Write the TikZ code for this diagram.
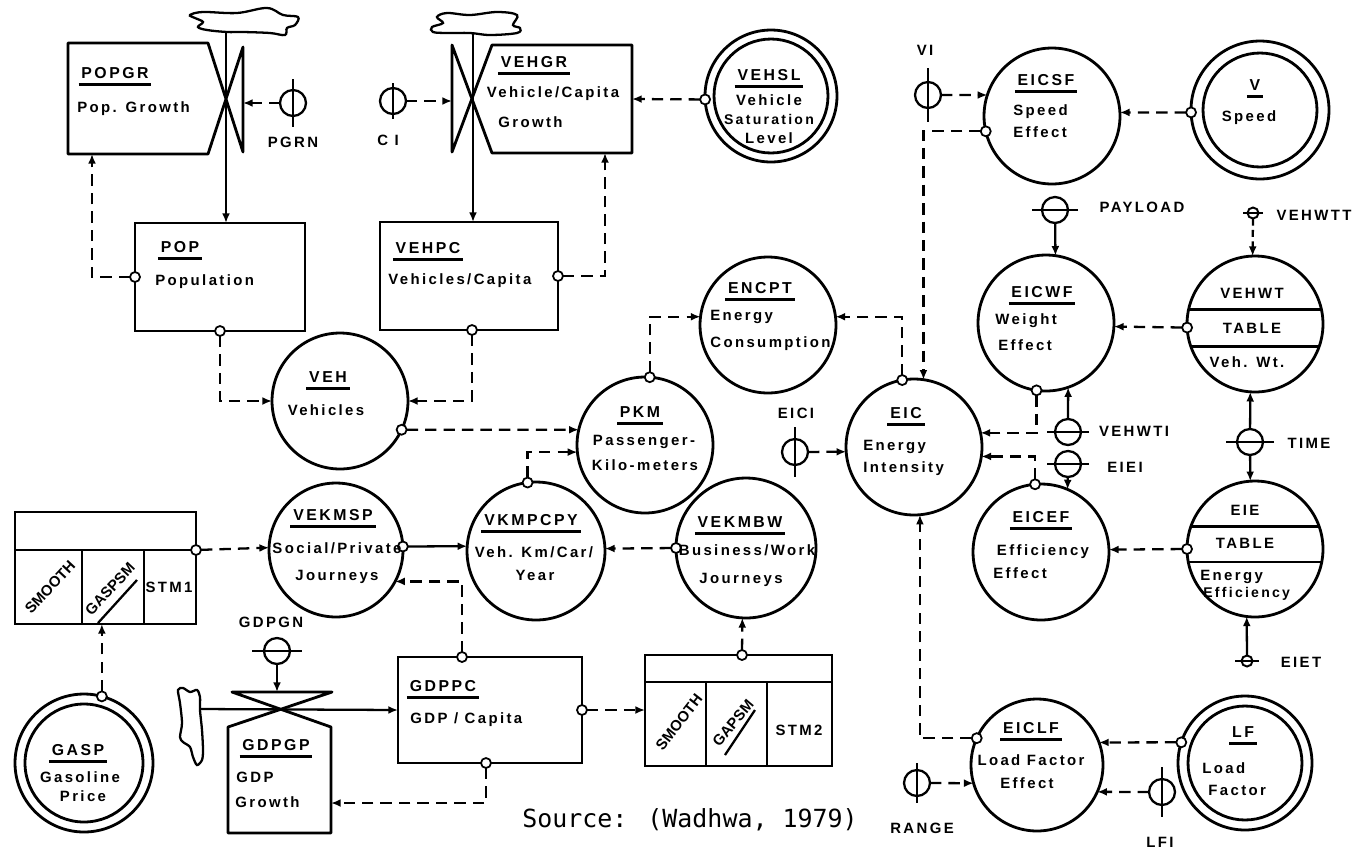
\documentclass[tikz,border=0pt]{standalone}
\usepackage{fontspec}
\newfontfamily\labfont{Liberation Sans}[LetterSpace=16]
\newfontfamily\labfontn{Liberation Sans}
\newfontfamily\srcfont{DejaVu Sans Mono}
\usetikzlibrary{arrows.meta}
\newcommand\ttlnode[4]{%
  \node[ttl] (#1) at (#2,#3) {#4};
  \draw[ul] ([xshift=-0.05cm,yshift=-0.13cm]#1.base west) -- ([xshift=0.05cm,yshift=-0.13cm]#1.base east);}
\newcommand\auxv[4]{%
  \node[aux] (#1) at (#2,#3) {};
  \draw[auxline] ([yshift=#4]#1.center) -- ([yshift=-#4]#1.center);}
\newcommand\auxh[4]{%
  \node[aux] (#1) at (#2,#3) {};
  \draw[auxline] ([xshift=#4]#1.center) -- ([xshift=-#4]#1.center);}
\newcommand\auxhs[4]{%
  \node[auxs] (#1) at (#2,#3) {};
  \draw[auxline] ([xshift=#4]#1.center) -- ([xshift=-#4]#1.center);}
\begin{document}
\begin{tikzpicture}[x=0.02cm,y=-0.02cm,
  >={Latex[length=5.5pt,width=4.5pt]},
  ol/.style={line width=1.6pt,line join=round},
  box/.style={rectangle,draw,line width=1.6pt,inner sep=0pt,outer sep=0pt},
  circ/.style={circle,draw,line width=1.6pt,inner sep=0pt,outer sep=0pt,minimum size=#1},
  pick/.style={circle,draw,fill=white,line width=1pt,inner sep=0pt,outer sep=0pt,minimum size=0.2cm},
  aux/.style={circle,draw,line width=1.3pt,inner sep=0pt,outer sep=0pt,minimum size=0.52cm},
  auxs/.style={aux,minimum size=0.22cm,line width=1.1pt},
  auxline/.style={line width=1.3pt},
  dc/.style={line width=1.3pt,dash pattern=on 6.5pt off 4pt,->},
  sc/.style={line width=1.3pt,->},
  lbl/.style={font={\labfont\bfseries\fontsize{8.5pt}{10pt}\selectfont},inner sep=0pt,anchor=base},
  ttl/.style={lbl,font={\labfont\bfseries\fontsize{9pt}{11pt}\selectfont}},
  rot/.style={inner sep=0pt,anchor=center,font={\labfontn\bfseries\fontsize{8.5pt}{10pt}\selectfont}},
  ul/.style={line width=1.3pt},
  cld/.style={line width=1.3pt}
]
\path[use as bounding box] (0,0) rectangle (1362,853);

% ---------- clouds ----------
\draw[cld] plot[smooth cycle,tension=0.6] coordinates {(190,15) (203,12) (237,13) (267,8) (283,15) (298,17) (295,25) (287,28) (285,35) (270,33) (243,32) (227,32) (207,30) (198,27) (203,22) (195,18)};
\coordinate (cl1b) at (226,32);
\draw[cld] plot[smooth cycle,tension=0.6] coordinates {(437,17) (447,13) (470,15) (497,12) (517,15) (513,25) (520,28) (517,33) (490,35) (470,33) (447,33) (433,32) (432,27) (443,23)};
\coordinate (cl2b) at (473,34);
\draw[cld] plot[smooth cycle,tension=0.5] coordinates {(178,690) (183,688) (190,692) (197,690) (200,697) (200,710) (202,730) (203,750) (202,760) (197,765) (193,757) (190,747) (183,742) (180,737) (182,723) (180,703)};
\coordinate (cl3r) at (200,709);

% ---------- levels with valves ----------
\draw[ol] (243,47) -- (208,154) -- (68,154) -- (68,43) -- (208,43) -- (243,152) -- cycle;
\coordinate (popgrB) at (92,154);
\coordinate (popv) at (243,103);
\draw[ol] (452,45) -- (492,153) -- (632,153) -- (632,45) -- (492,45) -- (452,152) -- cycle;
\coordinate (vehgrB) at (605,153);
\coordinate (vehgrR) at (632,99);
\coordinate (vehv) at (452,101);
\draw[ol] (232,692) -- (331,727) -- (331,833) -- (228,833) -- (228,727) -- (332,692) -- cycle;
\coordinate (gvt) at (277,692);
\coordinate (gdpgpR) at (331,803);

% ---------- boxes ----------
\node[box,minimum width=3.4cm,minimum height=2.16cm] (pop) at (220,277) {};
\node[box,minimum width=3.56cm,minimum height=2.16cm] (vehpc) at (469,276) {};
\node[box,minimum width=3.68cm,minimum height=2.12cm] (gdppc) at (490,710) {};
\node[box,minimum width=3.62cm,minimum height=2.24cm] (stm1) at (105.5,568) {};
\node[box,minimum width=3.74cm,minimum height=2.22cm] (stm2) at (738.5,710.5) {};
\draw[ol] (15,550) -- (196,550) (82,550) -- (82,624) (144,550) -- (144,624);
\draw[ol] (645,682) -- (832,682) (706,682) -- (706,766) (767,682) -- (767,766);
\draw[ul] (98,623) -- (137,580);
\draw[ul] (725,755) -- (755,710);

% ---------- circles ----------
\node[circ=2.72cm] (veh) at (340,401) {};
\node[circ=2.72cm] (pkm) at (645,445) {};
\node[circ=2.72cm] (encpt) at (768,325) {};
\node[circ=2.72cm] (eic) at (914,447) {};
\node[circ=2.72cm] (eicsf) at (1052,116) {};
\node[circ=2.76cm] (v) at (1260,110) {};
\node[circ=2.28cm] (vI) at (1260,110) {};
\node[circ=2.72cm] (eicwf) at (1046,323) {};
\node[circ=2.72cm] (vehwt) at (1255,324) {};
\node[circ=2.72cm] (eicef) at (1041,552) {};
\node[circ=2.72cm] (eie) at (1255,549) {};
\node[circ=2.64cm] (eiclf) at (1037,765) {};
\node[circ=2.68cm] (lf) at (1245,763) {};
\node[circ=2.28cm] (lfI) at (1245,763) {};
\node[circ=2.68cm] (vs) at (336,550) {};
\node[circ=2.76cm] (vk) at (536,551) {};
\node[circ=2.8cm] (vb) at (746,548) {};
\node[circ=2.76cm] (gasp) at (84,763) {};
\node[circ=2.36cm] (gaspI) at (84,763) {};
\node[circ=2.64cm] (vehsl) at (771,96) {};
\node[circ=2.28cm] (vehslI) at (771,96) {};
\draw[ol] (vehwt.168) -- (vehwt.12) (vehwt.199) -- (vehwt.-19);
\draw[ol] (eie.161) -- (eie.19) (eie.191) -- (eie.-11);

% ---------- auxiliaries ----------
\auxv{pgrn}{293}{103}{0.48cm}
\auxv{ci}{393}{101}{0.36cm}
\auxv{vi}{928}{95}{0.54cm}
\auxv{eici}{795}{452}{0.5cm}
\auxh{payload}{1055}{210}{0.46cm}
\auxh{vehwti}{1068}{432}{0.42cm}
\auxh{eiei}{1068}{464}{0.42cm}
\auxh{time}{1250}{442}{0.48cm}
\auxhs{vehwtt}{1253}{213}{0.2cm}
\auxhs{eiet}{1247}{661}{0.24cm}
\auxv{range}{917}{783}{0.4cm}
\auxv{lfi}{1162}{792}{0.5cm}
\auxh{gdpgn}{277}{651}{0.5cm}

% ---------- pick-off points ----------
\node[pick] (pPOPl) at (pop.west) {};
\node[pick] (pPOPb) at (pop.south) {};
\node[pick] (pVEHPCr) at (vehpc.east) {};
\node[pick] (pVEHPCb) at ([xshift=0.06cm]vehpc.south) {};
\node[pick] (pVEHSL) at (vehsl.183) {};
\node[pick] (pVEH) at (veh.-25) {};
\node[pick] (pPKMt) at (pkm.86) {};
\node[pick] (pEICt) at (eic.100) {};
\node[pick] (pEICSF) at (eicsf.193) {};
\node[pick] (pV) at (v.182) {};
\node[pick] (pEICWF) at (eicwf.-98) {};
\node[pick] (pVEHWT) at (vehwt.183) {};
\node[pick] (pEICEF) at (eicef.95) {};
\node[pick] (pEIE) at (eie.180) {};
\node[pick] (pEICLF) at (eiclf.156) {};
\node[pick] (pLF) at (lf.162) {};
\node[pick] (pVKt) at (vk.97) {};
\node[pick] (pVSr) at (vs.3) {};
\node[pick] (pSTM1) at (stm1.east |- 0,550) {};
\node[pick] (pVB) at (vb.180) {};
\node[pick] (pSTM2) at ([xshift=0.07cm]stm2.north) {};
\node[pick] (pGASP) at (gasp.75) {};
\node[pick] (pGDPt) at ([xshift=-0.56cm]gdppc.north) {};
\node[pick] (pGDPr) at (gdppc.east) {};
\node[pick] (pGDPb) at ([xshift=-0.08cm]gdppc.south) {};

% ---------- flows ----------
\draw[sc] (cl1b) -- (cl1b |- pop.north);
\draw[sc] (cl2b) -- (cl2b |- vehpc.north);
\draw[sc] (cl3r) -- (gdppc.west);

% ---------- information links ----------
\draw[dc] (pgrn) -- (popv);
\draw[dc] (ci) -- (vehv);
\draw[dc] (pVEHSL) -- (vehgrR);
\draw[dc] (pPOPl) -| (popgrB);
\draw[dc] (pPOPb) |- (veh.west);
\draw[dc] (pVEHPCr) -| (vehgrB);
\draw[dc] (pVEHPCb) |- (veh.east);
\draw[dc] (pVEH) -- (pkm.167);
\draw[dc] (pPKMt) |- (encpt.173);
\draw[dc] (pEICt) |- (encpt.7);
\draw[dc] (pEICSF) -| (eic.82);
\draw[dc] (vi) -- (eicsf.162);
\draw[dc] (pV) -- (eicsf.3);
\draw[sc] (payload) -- (eicwf.82);
\draw[dc] (pVEHWT) -- (eicwf.-3);
\draw[dc] (pEICWF) |- (eic.12);
\draw[sc] (vehwti) -- (eicwf.-71);
\draw[sc] (eiei) -- (eicef.67);
\draw[dc] (pEICEF) |- (eic.-8);
\draw[dc] (pEIE) -- (eicef.2);
\draw[dc,dash pattern=on 4pt off 2.5pt] (vehwtt) -- (vehwt.92);
\draw[sc] (time) -- (vehwt.-94);
\draw[sc] (time) -- (eie.94);
\draw[sc] (eiet) -- (eie.-97);
\draw[dc] (pEICLF) -| (eic.-85);
\draw[dc] (pLF) -- (eiclf.20);
\draw[dc] (lfi) -- (eiclf.-24);
\draw[dc] (range) -- (eiclf.196);
\draw[dc] (eici) -- (eic.184);
\draw[dc] (pVKt) |- (pkm.186);
\draw[sc] (pVSr) -- (vk.176);
\draw[dc] (pSTM1) -- (vs.178);
\draw[dc] (pGDPt) |- (vs.-28.5);
\draw[dc] (pVB) -- (vk.2.5);
\draw[dc] (pSTM2) -- (vb.-93);
\draw[dc] (pGASP) -- (pGASP |- stm1.south);
\draw[sc] (gdpgn) -- (gvt);
\draw[dc] (pGDPr) -- (pGDPr -| stm2.west);
\draw[dc] (pGDPb) |- (gdpgpR);

% ---------- texts ----------
\ttlnode{tPOPGR}{115}{78}{POPGR}
\node[lbl,anchor=base west] (tPOPGRb) at (77,112) {Pop. Growth};
\ttlnode{tPOP}{180}{252}{POP}
\node[lbl,anchor=base west] (tPOPb) at (155,285) {Population};
\ttlnode{tVEHGR}{534}{67}{VEHGR}
\node[lbl] (tVEHGRb) at (553,97) {Vehicle/Capita};
\node[lbl,anchor=base west] (tVEHGRc) at (498,127) {Growth};
\ttlnode{tVEHPC}{428}{253}{VEHPC}
\node[lbl,anchor=base west] (tVEHPCb) at (388,284) {Vehicles/Capita};
\ttlnode{tVEHSL}{769}{80}{VEHSL}
\node[lbl] (tVEHSLb) at (769,105) {Vehicle};
\node[lbl,font={\labfont\bfseries\fontsize{8pt}{9pt}\selectfont}] (tVEHSLc) at (769,124) {Saturation};
\node[lbl] (tVEHSLd) at (769,143) {Level};
\ttlnode{tVEH}{328}{382}{VEH}
\node[lbl] (tVEHb) at (326,415) {Vehicles};
\ttlnode{tENCPT}{760}{293}{ENCPT}
\node[lbl,anchor=base west] (tENCPTb) at (710,320) {Energy};
\node[lbl,anchor=base west] (tENCPTc) at (710,347) {Consumption};
\ttlnode{tPKM}{640}{417}{PKM}
\node[lbl] (tPKMb) at (644,445) {Passenger-};
\node[lbl] (tPKMc) at (645,470) {Kilo-meters};
\ttlnode{tEIC}{906}{418}{EIC}
\node[lbl,anchor=base west] (tEICb) at (863,450) {Energy};
\node[lbl,anchor=base west] (tEICc) at (863,472) {Intensity};
\node[lbl] (tEICI) at (796,418) {EICI};
\ttlnode{tEICSF}{1046}{85}{EICSF}
\node[lbl,anchor=base west] (tEICSFb) at (1013,115) {Speed};
\node[lbl,anchor=base west] (tEICSFc) at (1013,137) {Effect};
\ttlnode{tV}{1255}{90}{V}
\node[lbl] (tVb) at (1249,121) {Speed};
\node[lbl] (tVI) at (925,55) {VI};
\node[lbl] (tPAY) at (1142,212) {PAYLOAD};
\node[lbl] (tVEHWTT) at (1314,220) {VEHWTT};
\ttlnode{tEICWF}{1042}{297}{EICWF}
\node[lbl,anchor=base west] (tEICWFb) at (995,324) {Weight};
\node[lbl,anchor=base west] (tEICWFc) at (998,350) {Effect};
\node[lbl] (tVEHWT) at (1252,298) {VEHWT};
\node[lbl] (tVEHWTb) at (1252,333) {TABLE};
\node[lbl] (tVEHWTc) at (1247,367) {Veh. Wt.};
\node[lbl] (tVEHWTI) at (1134,436) {VEHWTI};
\node[lbl] (tEIEI) at (1125,472) {EIEI};
\node[lbl] (tTIME) at (1309,448) {TIME};
\ttlnode{tEICEF}{1041}{522}{EICEF}
\node[lbl] (tEICEFb) at (1043,555) {Efficiency};
\node[lbl,anchor=base west] (tEICEFc) at (993,578) {Effect};
\node[lbl] (tEIE) at (1245,515) {EIE};
\node[lbl] (tEIEb) at (1245,548) {TABLE};
\node[lbl,anchor=base west] (tEIEc) at (1200,580) {Energy};
\node[lbl,anchor=base west,font={\labfont\bfseries\fontsize{8pt}{9pt}\selectfont}] (tEIEd) at (1203,597) {Efficiency};
\node[lbl] (tEIET) at (1301,667) {EIET};
\ttlnode{tEICLF}{1031}{733}{EICLF}
\node[lbl] (tEICLFb) at (1031,765) {Load Factor};
\node[lbl] (tEICLFc) at (1027,788) {Effect};
\node[lbl] (tRANGE) at (922,833) {RANGE};
\node[lbl] (tLFI) at (1160,847) {LFI};
\ttlnode{tLF}{1243}{737}{LF}
\node[lbl,anchor=base west] (tLFb) at (1202,773) {Load};
\node[lbl,anchor=base west] (tLFc) at (1208,795) {Factor};
\ttlnode{tVEKMSP}{333}{520}{VEKMSP}
\node[lbl] (tVEKMSPb) at (337,553) {Social/Private};
\node[lbl] (tVEKMSPc) at (337,580) {Journeys};
\ttlnode{tVKMPCPY}{531}{525}{VKMPCPY}
\node[lbl] (tVKb) at (534,557) {Veh. Km/Car/};
\node[lbl] (tVKc) at (535,580) {Year};
\ttlnode{tVEKMBW}{740}{527}{VEKMBW}
\node[lbl] (tVBb) at (747,555) {Business/Work};
\node[lbl] (tVBc) at (741,583) {Journeys};
\ttlnode{tGASP}{78}{755}{GASP}
\node[lbl] (tGASPb) at (80,782) {Gasoline};
\node[lbl] (tGASPc) at (83,801) {Price};
\node[lbl] (tGDPGN) at (271,627) {GDPGN};
\ttlnode{tGDPGP}{276}{750}{GDPGP}
\node[lbl,anchor=base west] (tGDPGPb) at (236,782) {GDP};
\node[lbl,anchor=base west] (tGDPGPc) at (235,807) {Growth};
\ttlnode{tGDPPC}{443}{691}{GDPPC}
\node[lbl,anchor=base west] (tGDPPCb) at (410,723) {GDP / Capita};
\node[lbl] (tPGRN) at (293,147) {PGRN};
\node[lbl] (tCI) at (388,145) {C I};
\node[rot,rotate=47] (tSM1) at (50,587) {SMOOTH};
\node[rot,rotate=47] (tGS1) at (110,589) {GASPSM};
\node[lbl] (tSTM1) at (169,592) {STM1};
\node[rot,rotate=52] (tSM2) at (679,722) {SMOOTH};
\node[rot,rotate=50] (tGS2) at (733,723) {GAPSM};
\node[lbl] (tSTM2) at (799,735) {STM2};
\node[font={\srcfont\fontsize{14.2pt}{16pt}\selectfont},inner sep=0pt,anchor=base] (tSRC) at (690,827) {Source: (Wadhwa, 1979)};
\end{tikzpicture}
\end{document}
